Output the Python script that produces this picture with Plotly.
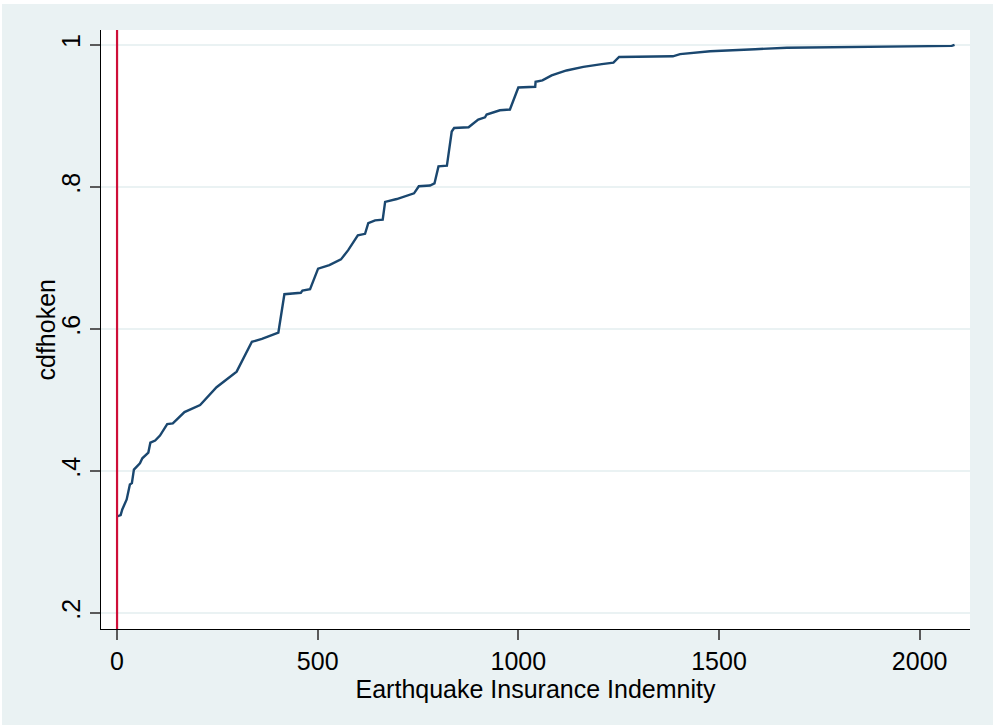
import plotly.graph_objects as go

indemnity = [0, 9, 13, 24, 32, 37, 42, 57, 63, 78, 83, 95, 107, 125, 139, 168, 207, 248, 298, 336,
             361, 402, 417, 458, 462, 481, 501, 529, 558, 576, 600, 618, 626, 643, 662, 668, 697, 720,
             740, 752, 780, 791, 801, 822, 834, 840, 876, 900, 917, 921, 954, 979, 1000, 1042, 1043,
             1060, 1083, 1120, 1162, 1208, 1237, 1251, 1385, 1403, 1478, 1590, 1669, 2080, 2087]
cdfhoken = [0.336, 0.338, 0.346, 0.360, 0.381, 0.383, 0.402, 0.411, 0.418, 0.426, 0.440, 0.443,
            0.450, 0.466, 0.467, 0.483, 0.493, 0.518, 0.540, 0.582, 0.586, 0.595, 0.649, 0.651,
            0.654, 0.656, 0.685, 0.690, 0.698, 0.711, 0.732, 0.734, 0.749, 0.753, 0.754, 0.779,
            0.783, 0.787, 0.791, 0.801, 0.802, 0.805, 0.829, 0.830, 0.878, 0.883, 0.884, 0.895,
            0.898, 0.902, 0.908, 0.909, 0.940, 0.941, 0.948, 0.950, 0.957, 0.964, 0.969, 0.973,
            0.975, 0.983, 0.984, 0.987, 0.991, 0.994, 0.996, 0.9986, 1.0]
xline_value = 0

x_tickvals = [0, 500, 1000, 1500, 2000]
x_ticktext = ["0", "500", "1000", "1500", "2000"]
y_tickvals = [0.2, 0.4, 0.6, 0.8, 1.0]
y_ticktext = [".2", ".4", ".6", ".8", "1"]

BG = "#EAF2F3"
FONT = "Liberation Sans, Arial, sans-serif"
FS = 25

fig = go.Figure()
fig.add_trace(go.Scatter(x=indemnity, y=cdfhoken, mode="lines",
                         line=dict(color="#1A476F", width=2.4), showlegend=False,
                         hoverinfo="skip"))

fig.update_layout(
    width=993, height=725,
    margin=dict(l=101, r=23, t=30, b=96, pad=0),
    paper_bgcolor=BG, plot_bgcolor="white",
    font=dict(family=FONT, size=FS, color="black"),
    xaxis=dict(range=[-40, 2125.5], tickvals=x_tickvals, ticktext=x_ticktext,
               showgrid=False, zeroline=False, showline=True, linecolor="black", linewidth=1,
               ticks="outside", ticklen=10, tickcolor="#5a5a5a", tickwidth=1.5,
               tickfont=dict(size=FS),
               title=dict(text="Earthquake Insurance Indemnity", font=dict(size=FS), standoff=0)),
    yaxis=dict(range=[0.1776, 1.021], tickvals=y_tickvals, ticktext=y_ticktext,
               showgrid=True, gridcolor=BG, gridwidth=2, zeroline=False,
               showline=True, linecolor="black", linewidth=1,
               ticks="outside", ticklen=10, tickcolor="#5a5a5a", tickwidth=1.5,
               tickangle=-90, tickfont=dict(size=FS)),
    annotations=[dict(text="cdfhoken", xref="paper", yref="paper", x=(45 - 101) / 869, y=0.5,
                      xanchor="center", yanchor="middle", textangle=-90, showarrow=False,
                      font=dict(size=FS, family=FONT, color="black"))],
)

# thin white strips at the top and left edges of the page
fig.add_shape(type="rect", xref="paper", yref="paper", x0=-0.3, x1=1.1,
              y0=1 + 26 / 599, y1=1.2, fillcolor="white", line=dict(width=0), layer="below")
fig.add_shape(type="rect", xref="paper", yref="paper", x0=-0.3, x1=-99 / 869,
              y0=-0.3, y1=1.2, fillcolor="white", line=dict(width=0), layer="below")
fig.add_vline(x=xline_value, line=dict(color="#CE0E38", width=2.2), layer="above")

fig.write_html("out.html")
